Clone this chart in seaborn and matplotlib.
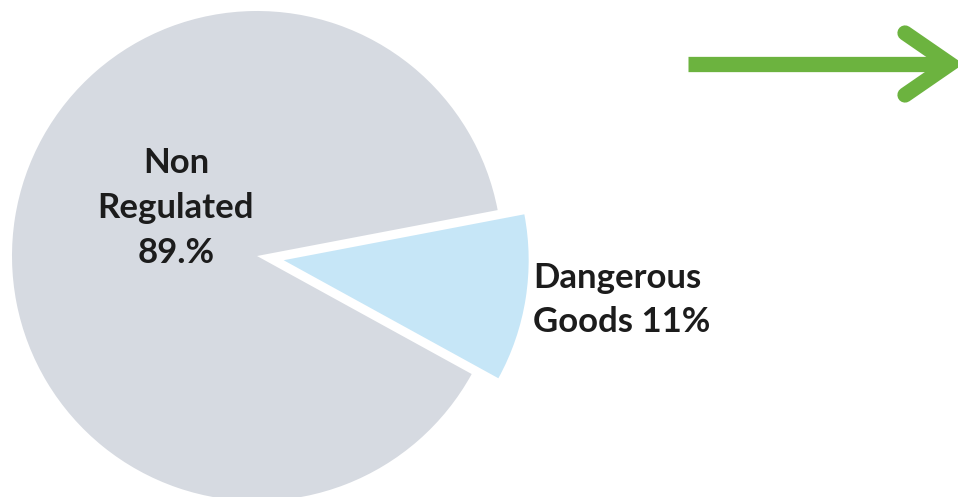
import matplotlib.pyplot as plt
import seaborn as sns

# data
categories = ["Non\nRegulated", "Dangerous\nGoods"]
shares = [89, 11]
share_labels = ["89.%", "11%"]
colors = ["#d6dae1", "#c6e6f7"]

sns.set_theme(style="white")
plt.rcParams["font.family"] = ["Lato", "DejaVu Sans"]

W, H = 958, 497
fig = plt.figure(figsize=(W / 100, H / 100), dpi=100)
ax = fig.add_axes([0, 0, 1, 1])

# pie drawn in pixel space so it can be cropped like the original
# (explode is in data units here, i.e. pixels)
ax.pie(shares, colors=colors, startangle=10.8, counterclock=True,
       explode=[0, 27], center=(257, H - 256), radius=245,
       wedgeprops=dict(linewidth=0))

ax.text(176, H - 208, f"{categories[0]}\n{share_labels[0]}", ha="center", va="center",
        fontsize=25, fontweight="bold", color="#1c1c1c", linespacing=1.5)
dg_top, dg_bottom = categories[1].split("\n")
ax.text(533, H - 300, f"{dg_top}\n{dg_bottom} {share_labels[1]}",
        ha="left", va="center", fontsize=25, fontweight="bold", color="#1c1c1c",
        linespacing=1.5)

# green arrow, top right
green = "#6cb33f"
ax.plot([688, 945], [H - 64, H - 64], color=green, lw=11, solid_capstyle="butt")
ax.plot([905, 950, 905], [H - 33, H - 64, H - 95], color=green, lw=11,
        solid_capstyle="round", solid_joinstyle="miter")

ax.set_xlim(0, W)
ax.set_ylim(0, H)
ax.set_aspect("equal")
ax.axis("off")

fig.savefig("out.png", dpi=100)
